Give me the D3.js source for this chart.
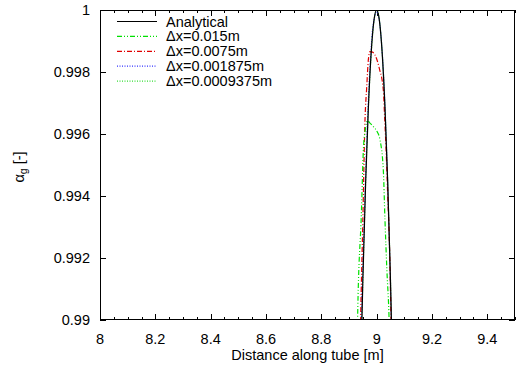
<!DOCTYPE html>
<html><head><meta charset="utf-8">
<script src="https://cdn.jsdelivr.net/npm/d3@7"></script>
<style>body{margin:0;background:#fff}svg{display:block}text{font-family:"Liberation Sans",Arial,sans-serif;font-size:14.5px;fill:#000}</style>
</head><body><svg id="c" width="528" height="367"></svg>
<script>
const xTicks = [8, 8.2, 8.4, 8.6, 8.8, 9, 9.2, 9.4];
const yTicks = [0.99, 0.992, 0.994, 0.996, 0.998, 1];
const yTickLabels = ["0.99", "0.992", "0.994", "0.996", "0.998", "1"];
const seriesNames = ["Analytical", "\u0394x=0.015m", "\u0394x=0.0075m", "\u0394x=0.001875m", "\u0394x=0.0009375m"];
const analytical = [[8.93,0.9829],[8.94,0.9874],[8.95,0.99125],[8.96,0.9944],[8.97,0.99685],[8.98,0.9986],[8.99,0.99965],[9.0,1.0],[9.01,0.99965],[9.02,0.9986],[9.03,0.99685],[9.04,0.9944],[9.05,0.99125],[9.06,0.9874],[9.07,0.9829]];
const dx015 = [[8.925,0.986],[8.931,0.99],[8.945,0.9935],[8.952,0.9955],[8.960,0.9962],[8.967,0.99643],[8.975,0.99636],[8.990,0.99622],[9.002,0.99607],[9.012,0.99581],[9.024,0.99484],[9.030,0.99323],[9.037,0.9916],[9.045,0.99],[9.050,0.988]];
const dx0075 = [[8.938,0.988],[8.942,0.99],[8.950,0.9932],[8.958,0.9965],[8.964,0.9975],[8.970,0.9984],[8.976,0.99866],[8.985,0.99864],[8.994,0.99855],[9.010,0.9981],[9.024,0.99742],[9.029,0.9965],[9.034,0.9955],[9.040,0.9940],[9.046,0.9925],[9.052,0.99],[9.056,0.988]];
const dx001875 = [[8.935,0.9855],[8.945,0.9902],[8.955,0.9932],[8.965,0.9960],[8.975,0.9980],[8.985,0.99935],[8.992,0.99975],[8.999,0.99995],[9.008,0.99975],[9.018,0.9989],[9.028,0.99735],[9.038,0.99495],[9.048,0.9918],[9.058,0.9879],[9.068,0.9833]];
const dx0009375 = [[8.932,0.9845],[8.941,0.9882],[8.951,0.99165],[8.961,0.9947],[8.971,0.99705],[8.981,0.9987],[8.991,0.9997],[9.001,1.0],[9.011,0.9996],[9.021,0.9985],[9.031,0.99665],[9.041,0.9941],[9.051,0.9909],[9.061,0.987],[9.071,0.9825]];

const svg = d3.select("#c");
const L=100, R=515, T=10, B=320;
const x = d3.scaleLinear().domain([8, 9.5]).range([L, R]);
const y = d3.scaleLinear().domain([0.99, 1]).range([B, T]);

svg.append("defs").append("clipPath").attr("id","clip").append("rect")
  .attr("x",L).attr("y",T).attr("width",R-L).attr("height",B-T);

// ticks (inward, mirrored)
const g = svg.append("g").attr("stroke","#000").attr("stroke-width",1);
const minorX = d3.range(0, 31).map(i => 8 + i*0.05);
minorX.forEach(v => {
  const px = Math.round(x(v))+0.5;
  const isMajor = Math.abs(v*5 - Math.round(v*5)) < 1e-6;
  const len = isMajor ? 6 : 3;
  g.append("line").attr("x1",px).attr("x2",px).attr("y1",B).attr("y2",B-len);
  g.append("line").attr("x1",px).attr("x2",px).attr("y1",T).attr("y2",T+len);
});
yTicks.forEach(v => {
  const py = Math.round(y(v))+0.5;
  g.append("line").attr("x1",L).attr("x2",L+6).attr("y1",py).attr("y2",py);
  g.append("line").attr("x1",R).attr("x2",R-6).attr("y1",py).attr("y2",py);
});

// tick labels
svg.append("g").selectAll("text").data(xTicks).join("text")
  .attr("x", d => x(d)).attr("y", B+24).attr("text-anchor","middle").text(d => String(d));
svg.append("g").selectAll("text").data(yTicks).join("text")
  .attr("x", L-10).attr("y", d => y(d)+5).attr("text-anchor","end").text((d,i) => yTickLabels[i]);

// axis titles
svg.append("text").attr("x", (L+R)/2).attr("y", 360).attr("text-anchor","middle").text("Distance along tube [m]");
const yl = svg.append("text").attr("transform","translate(24,167) rotate(-90)").attr("text-anchor","middle");
yl.append("tspan").text("\u03b1");
yl.append("tspan").attr("dy",3).attr("font-size","10.5px").text("g");
yl.append("tspan").attr("dy",-3).text(" [-]");

// series
const styles = [
  {data: analytical, color:"#000000", dash:null, w:1.2},
  {data: dx015, color:"#00e000", dash:"5,2,1,2,1,2", w:1.2},
  {data: dx0075, color:"#e00000", dash:"5,2,1,2", w:1.2},
  {data: dx001875, color:"#3333ff", dash:"1,1.5", w:1.2},
  {data: dx0009375, color:"#33dd33", dash:"1,1.5", w:1.2}
];
const line = d3.line().x(d => x(d[0])).y(d => y(d[1])).curve(d3.curveMonotoneX);
const pg = svg.append("g").attr("clip-path","url(#clip)");
styles.slice().reverse().forEach(s => {
  pg.append("path").datum(s.data).attr("d", line).attr("fill","none")
    .attr("stroke", s.color).attr("stroke-width", s.w)
    .attr("stroke-dasharray", s.dash);
});

// legend
const lg = svg.append("g");
styles.forEach((s,i) => {
  const ly = 21.5 + i*14.9;
  lg.append("line").attr("x1",117).attr("x2",157).attr("y1",ly).attr("y2",ly)
    .attr("stroke",s.color).attr("stroke-width",s.w).attr("stroke-dasharray",s.dash);
  lg.append("text").attr("x",166).attr("y",ly+5).text(seriesNames[i]);
});

// frame
svg.append("rect").attr("x",L+0.5).attr("y",T+0.5).attr("width",R-L-1).attr("height",B-T-1)
  .attr("fill","none").attr("stroke","#000").attr("stroke-width",1);
</script></body></html>
